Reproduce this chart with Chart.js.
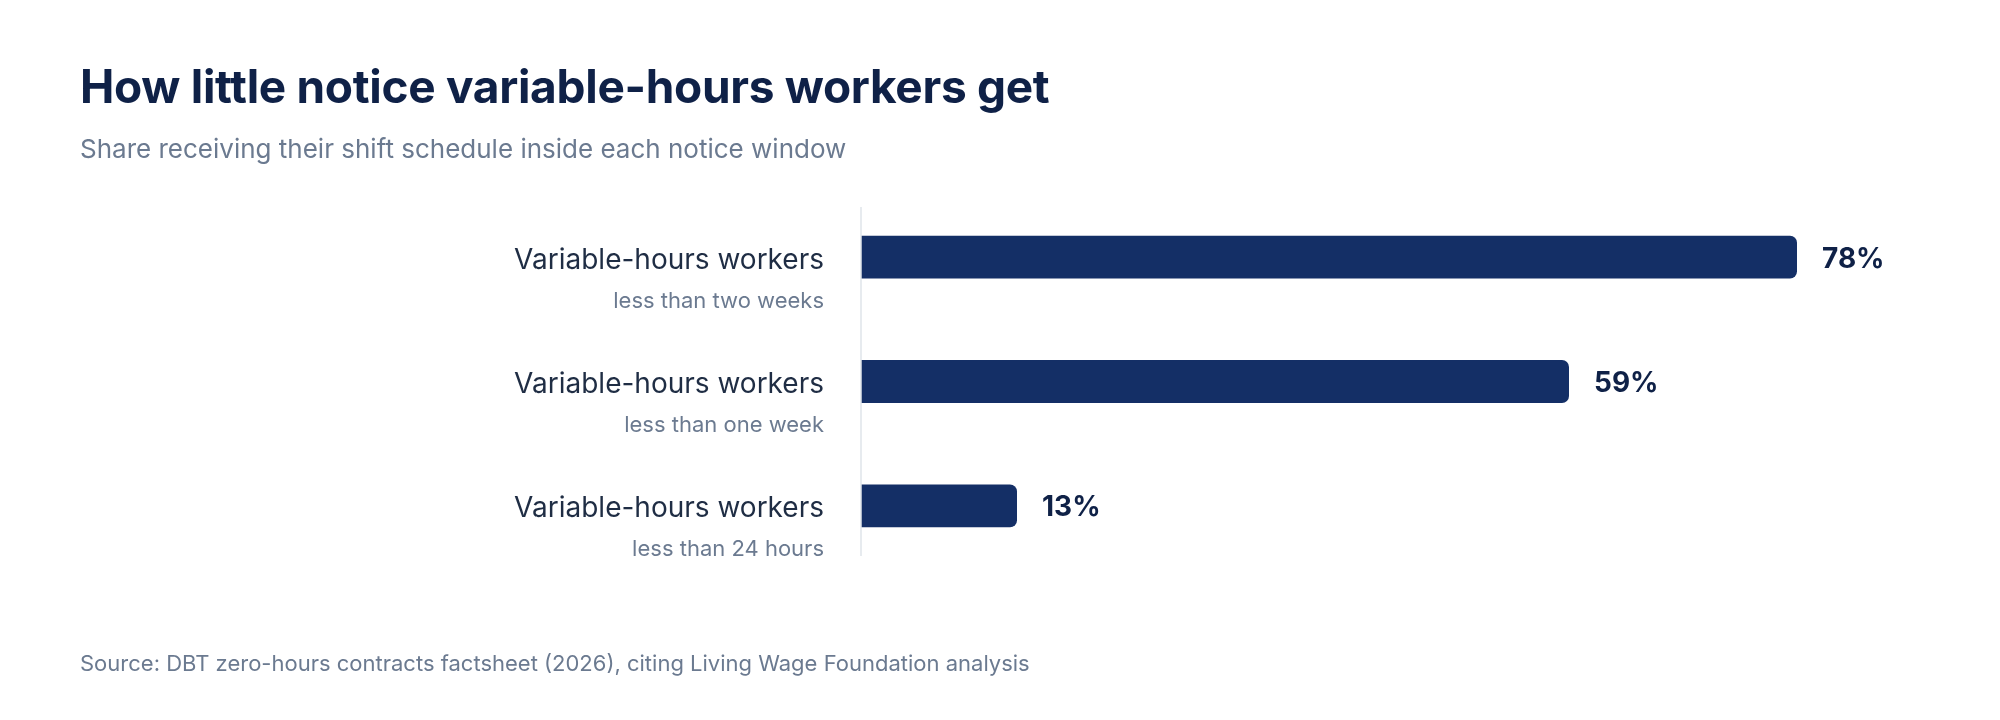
<!DOCTYPE html>
<html lang="en">
<head>
<meta charset="utf-8">
<title>How little notice variable-hours workers get</title>
<script src="https://cdn.jsdelivr.net/npm/chart.js@4"></script>
<style>
  body { margin: 0; background: #fff; font-family: Inter, "Liberation Sans", sans-serif; }
  .wrap { position: relative; width: 2000px; height: 720px; }
  canvas { position: absolute; left: 0; top: 0; }
  .title { position: absolute; left: 80px; top: 58px; font-size: 46px; font-weight: 700; color: #0f2147; letter-spacing: -0.3px; }
  .sub { position: absolute; left: 80px; top: 133px; font-size: 26px; color: #6b7a90; }
  .src { position: absolute; left: 80px; top: 650px; font-size: 22px; color: #6b7a90; }
</style>
</head>
<body>
<div class="wrap">
  <canvas id="chart" width="2000" height="720"></canvas>
  <div class="title">How little notice variable-hours workers get</div>
  <div class="sub">Share receiving their shift schedule inside each notice window</div>
  <div class="src">Source: DBT zero-hours contracts factsheet (2026), citing Living Wage Foundation analysis</div>
</div>
<script>
const groups = ['Variable-hours workers', 'Variable-hours workers', 'Variable-hours workers'];
const windows = ['less than two weeks', 'less than one week', 'less than 24 hours'];
const shares = [78, 59, 13];

const labelPlugin = {
  id: 'labels',
  afterDatasetsDraw(chart) {
    const ctx = chart.ctx;
    const y = chart.scales.y;
    const area = chart.chartArea;
    ctx.save();
    // axis line
    ctx.strokeStyle = '#dfe4ea';
    ctx.lineWidth = 1.5;
    ctx.beginPath();
    ctx.moveTo(area.left, 207);
    ctx.lineTo(area.left, 556);
    ctx.stroke();
    const meta = chart.getDatasetMeta(0);
    groups.forEach((g, i) => {
      const cy = y.getPixelForValue(i);
      ctx.textAlign = 'right';
      ctx.textBaseline = 'middle';
      ctx.fillStyle = '#1f2d44';
      ctx.font = '28px Inter, "Liberation Sans", sans-serif';
      ctx.fillText(g, area.left - 37, cy + 3);
      ctx.fillStyle = '#6b7a90';
      ctx.font = '22px Inter, "Liberation Sans", sans-serif';
      ctx.fillText(windows[i], area.left - 37, cy + 44);
      const bar = meta.data[i];
      ctx.textAlign = 'left';
      ctx.fillStyle = '#0f2147';
      ctx.font = 'bold 28px Inter, "Liberation Sans", sans-serif';
      ctx.fillText(shares[i] + '%', bar.x + 25, cy + 2);
    });
    ctx.restore();
  }
};

new Chart(document.getElementById('chart'), {
  type: 'bar',
  data: {
    labels: windows,
    datasets: [{
      data: shares,
      backgroundColor: '#142f66',
      borderRadius: { topRight: 7, bottomRight: 7 },
      borderSkipped: 'start',
      barPercentage: 0.345,
      categoryPercentage: 1
    }]
  },
  options: {
    indexAxis: 'y',
    responsive: false,
    animation: false,
    layout: { padding: { left: 861, right: 59, top: 195, bottom: 152 } },
    scales: {
      x: { display: false, min: 0, max: 90 },
      y: { display: false }
    },
    plugins: { legend: { display: false }, tooltip: { enabled: false } }
  },
  plugins: [labelPlugin]
});
</script>
</body>
</html>
